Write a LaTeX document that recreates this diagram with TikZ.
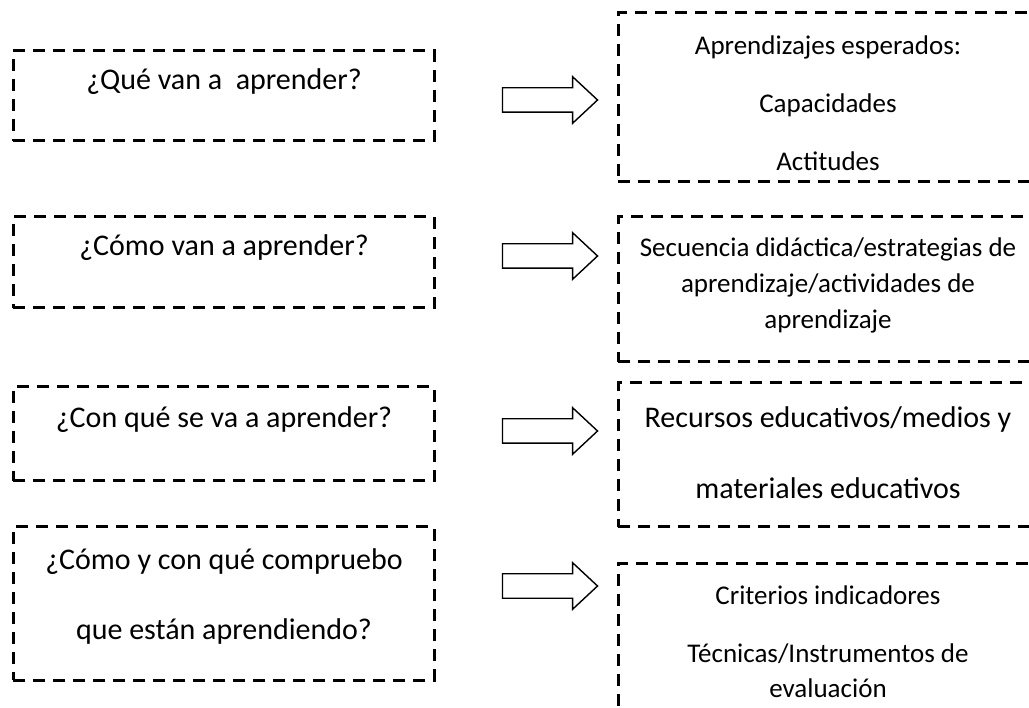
\documentclass[tikz,border=0pt]{standalone}
\usepackage{fontspec}
\setmainfont{Carlito}
\usetikzlibrary{shapes.arrows}

\begin{document}
\begin{tikzpicture}[x=1pt,y=-1pt,
    qbox/.style={draw, line width=3pt, dash pattern=on 12pt off 8pt, minimum width=421pt, inner sep=0pt},
    abox/.style={draw, line width=3pt, dash pattern=on 12pt off 8pt, minimum width=420pt, inner sep=0pt},
    qtext/.style={align=center, font=\fontsize{30}{36}\selectfont},
    atext/.style={align=center, font=\fontsize{27}{36}\selectfont},
    bigarrow/.style={single arrow, draw, line width=1.4pt, minimum height=95pt, minimum width=45pt,
        inner xsep=0pt, inner ysep=11.5pt, single arrow head extend=11pt, single arrow tip angle=86}]
    \useasboundingbox (0,0) rectangle (1029,708);
    \clip (0,0) rectangle (1029,708);

    % questions
    \node[qbox, minimum height=90pt] (q1) at (223.5,96) {};
    \node[qbox, minimum height=91pt] (q2) at (223.5,262.5) {};
    \node[qbox, minimum height=94pt] (q3) at (223.5,434) {};
    \node[qbox, minimum height=153pt] (q4) at (223.5,603.5) {};
    \node[qtext] (q1t) at (224,82) {¿Qué van a \ aprender?};
    \node[qtext] (q2t) at (224,248) {¿Cómo van a aprender?};
    \node[qtext] (q3t) at (224,420) {¿Con qué se va a aprender?};
    \node[qtext, font=\fontsize{30}{70}\selectfont] (q4t) at (224,597) {¿Cómo y con qué compruebo\\que están aprendiendo?};

    % answers
    \node[abox, minimum height=169pt] (a1) at (828,97.5) {};
    \node[abox, minimum height=145pt] (a2) at (828,289.5) {};
    \node[abox, minimum height=144pt] (a3) at (828,455) {};
    \node[abox, minimum height=170pt] (a4) at (828,649) {};
    \node[atext, font=\fontsize{27}{58}\selectfont] (a1t) at (828,103.5) {Aprendizajes esperados:\\Capacidades\\Actitudes};
    \node[atext] (a2t) at (828,285.5) {Secuencia didáctica/estrategias de\\aprendizaje/actividades de\\aprendizaje};
    \node[atext, font=\fontsize{30}{71}\selectfont] (a3t) at (828,452.5) {Recursos educativos/medios y\\materiales educativos};
    \node[atext, font=\fontsize{27}{35}\selectfont] (a4t) at (828,641.5) {Criterios indicadores\\[23pt]Técnicas/Instrumentos de\\evaluación};

    % arrows
    \node[bigarrow] (r1) at (543.5,100) {};
    \node[bigarrow] (r2) at (543.5,256) {};
    \node[bigarrow] (r3) at (543.5,431) {};
    \node[bigarrow] (r4) at (543.5,586) {};
\end{tikzpicture}
\end{document}
